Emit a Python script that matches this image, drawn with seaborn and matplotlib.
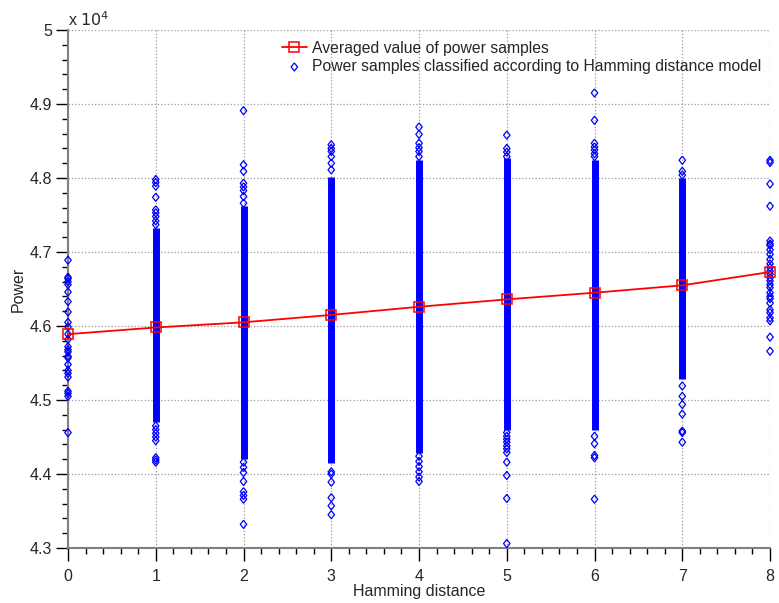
import numpy as np
import pandas as pd
import seaborn as sns
import matplotlib.pyplot as plt
import matplotlib.ticker as ticker

# values are in units of 1e4 (axis carries the "x 10^4" factor)
hamming = [0, 1, 2, 3, 4, 5, 6, 7, 8]
avg_power = [4.589, 4.598, 4.605, 4.615, 4.626, 4.636, 4.645, 4.655, 4.673]

# isolated samples, per Hamming distance
samples_hd0 = [4.689, 4.666, 4.664, 4.660, 4.656, 4.646, 4.633, 4.619, 4.605, 4.599, 4.589,
               4.582, 4.572, 4.568, 4.565, 4.559, 4.557, 4.548, 4.540, 4.536, 4.531, 4.512,
               4.509, 4.505, 4.456]
samples_hd1 = [4.798, 4.794, 4.789, 4.774, 4.757, 4.753, 4.748, 4.742, 4.737, 4.465, 4.460,
               4.455, 4.450, 4.445, 4.422, 4.419, 4.416]
samples_hd2 = [4.891, 4.818, 4.809, 4.793, 4.788, 4.783, 4.775, 4.766, 4.416, 4.409, 4.402,
               4.390, 4.376, 4.371, 4.366, 4.332]
samples_hd3 = [4.845, 4.840, 4.836, 4.829, 4.820, 4.811, 4.403, 4.400, 4.389, 4.368, 4.357,
               4.345]
samples_hd4 = [4.869, 4.859, 4.847, 4.841, 4.836, 4.829, 4.424, 4.417, 4.410, 4.403, 4.396,
               4.390]
samples_hd5 = [4.858, 4.840, 4.835, 4.829, 4.456, 4.451, 4.447, 4.443, 4.438, 4.434, 4.429,
               4.416, 4.398, 4.367, 4.306]
samples_hd6 = [4.915, 4.878, 4.847, 4.842, 4.838, 4.833, 4.829, 4.451, 4.441, 4.425, 4.422,
               4.366]
samples_hd7 = [4.824, 4.809, 4.804, 4.519, 4.505, 4.494, 4.481, 4.458, 4.456, 4.443]
samples_hd8 = [4.824, 4.821, 4.792, 4.762, 4.715, 4.711, 4.709, 4.703, 4.697, 4.690, 4.684,
               4.679, 4.674, 4.670, 4.665, 4.661, 4.656, 4.652, 4.645, 4.640, 4.637, 4.631,
               4.622, 4.618, 4.611, 4.607, 4.585, 4.566]

# ranges where the samples are so dense they merge into a solid column
band_hd = [1, 2, 3, 4, 5, 6, 7]
band_low = [4.470, 4.420, 4.415, 4.429, 4.460, 4.460, 4.528]
band_high = [4.733, 4.762, 4.802, 4.825, 4.827, 4.824, 4.800]

sns.set_style('ticks')
plt.rcParams['font.family'] = ['Liberation Sans', 'DejaVu Sans']
plt.rcParams['font.size'] = 11.5

sample_lists = [samples_hd0, samples_hd1, samples_hd2, samples_hd3, samples_hd4,
                samples_hd5, samples_hd6, samples_hd7, samples_hd8]
df = pd.DataFrame({
    'hd': np.repeat(hamming, [len(s) for s in sample_lists]),
    'power': np.concatenate(sample_lists),
})

fig = plt.figure(figsize=(7.79, 6.03), dpi=100)
ax = fig.add_axes([0.0873, 0.0912, 0.9012, 0.859])

# MATLAB-like diamond, a bit wider than matplotlib's 'd'
diamond = [(0, 1), (0.8, 0), (0, -1), (-0.8, 0), (0, 1)]

ax.vlines(band_hd, band_low, band_high, color='blue', linewidth=5, zorder=2)
sns.scatterplot(data=df, x='hd', y='power', marker=diamond, s=34, color='blue',
                linewidth=0.9, ax=ax, zorder=3, clip_on=False,
                label='Power samples classified according to Hamming distance model')
pts = ax.collections[-1]
pts.set_facecolor('none')
pts.set_edgecolor('blue')

sns.lineplot(x=hamming, y=avg_power, color='red', linewidth=1.3, marker='s', markersize=7,
             markerfacecolor='none', markeredgecolor='red', markeredgewidth=1.1,
             ax=ax, zorder=4, clip_on=False, label='Averaged value of power samples')

ax.set_xlim(0, 8)
ax.set_ylim(4.3, 5.0)
ax.xaxis.set_major_locator(ticker.MultipleLocator(1))
ax.xaxis.set_minor_locator(ticker.MultipleLocator(0.2))
ax.yaxis.set_major_locator(ticker.MultipleLocator(0.1))
ax.yaxis.set_minor_locator(ticker.MultipleLocator(0.02))
ax.yaxis.set_major_formatter(ticker.FuncFormatter(lambda v, p: f'{v:g}'))
ax.tick_params(which='both', bottom=True, left=True, top=False, right=False)
ax.tick_params(which='major', direction='out', length=9, width=1, color='black')
ax.tick_params(which='minor', direction='out', length=4.5, width=1, color='black')
ax.tick_params(axis='y', which='major', pad=2.5)
ax.tick_params(axis='x', which='major', pad=6)

ax.grid(True, which='major', linestyle=':', color='#9a9a9a', linewidth=0.9)
ax.set_axisbelow(True)
for side in ['top', 'right']:
    ax.spines[side].set_visible(False)
for side in ['left', 'bottom']:
    ax.spines[side].set_color('#808080')
    ax.spines[side].set_linewidth(1.5)

ax.set_xlabel('Hamming distance', labelpad=0)
ax.set_ylabel('Power', labelpad=3)
ax.text(0.0, 1.008, r'x $10^{4}$', transform=ax.transAxes, ha='left', va='baseline')

handles, labels = ax.get_legend_handles_labels()
order = [labels.index('Averaged value of power samples'),
         labels.index('Power samples classified according to Hamming distance model')]
ax.legend([handles[i] for i in order], [labels[i] for i in order], loc='upper left',
          bbox_to_anchor=(0.30, 0.985), frameon=False, handlelength=1.6, handletextpad=0.3,
          labelspacing=0.2, borderaxespad=0.0, borderpad=0.2, fontsize=11.3)

fig.savefig('out.png', dpi=100)
